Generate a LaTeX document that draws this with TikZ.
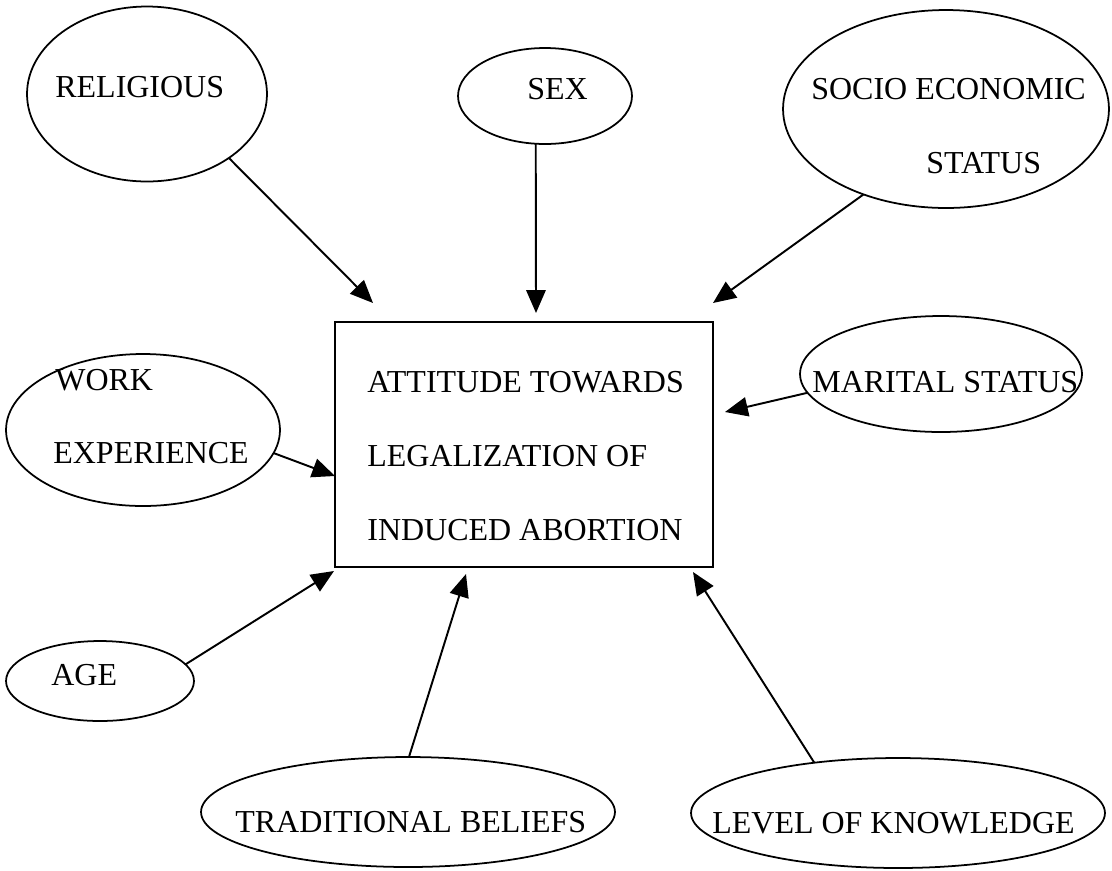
\documentclass[tikz,border=0pt]{standalone}
\usepackage{fontspec}
\setmainfont{Liberation Serif}
\usetikzlibrary{arrows.meta,shapes.geometric}

\tikzset{
  oval/.style={draw, ellipse, line width=1pt, inner sep=0pt, outer sep=0pt},
  box/.style={draw, rectangle, line width=1pt, inner sep=0pt, outer sep=0pt,
    minimum width=7.56cm, minimum height=4.9cm},
  lbl/.style={anchor=base west, inner sep=0pt, font=\fontsize{18.2}{21}\selectfont},
  arr/.style={-{Triangle[length=13pt,width=11pt]}, line width=1.1pt}
}

\begin{document}
\begin{tikzpicture}[x=0.02cm, y=-0.02cm]
          \useasboundingbox (0,0) rectangle (1112,870);

          \node[box] (box) at (524, 444.5) {};
          \node[lbl] (att) at (367, 392) {ATTITUDE TOWARDS};
          \node[lbl] (leg) at (367, 466) {LEGALIZATION OF};
          \node[lbl] (ind) at (367, 540) {INDUCED ABORTION};

          \node[oval, minimum width=4.8cm, minimum height=3.5cm] (rel) at (147, 94) {};
          \node[oval, minimum width=3.48cm, minimum height=1.92cm] (sex) at (545, 96) {};
          \node[oval, minimum width=6.52cm, minimum height=3.96cm] (soc) at (946, 109) {};
          \node[oval, minimum width=5.64cm, minimum height=2.32cm] (mar) at (941, 374) {};
          \node[oval, minimum width=5.48cm, minimum height=3.04cm] (wrk) at (143, 430) {};
          \node[oval, minimum width=3.76cm, minimum height=1.6cm] (age) at (100, 681) {};
          \node[oval, minimum width=8.28cm, minimum height=2.2cm] (trad) at (408, 812) {};
          \node[oval, minimum width=8.28cm, minimum height=2.2cm] (lev) at (898, 813) {};

          \node[lbl] (reltxt) at (55, 97) {RELIGIOUS};
          \node[lbl] (sextxt) at (527, 99) {SEX};
          \node[lbl] (soctxt) at (811, 99) {SOCIO ECONOMIC};
          \node[lbl] (soctxtb) at (926, 173) {STATUS};
          \node[lbl] (martxt) at (812, 392) {MARITAL STATUS};
          \node[lbl] (wrktxt) at (55, 390) {WORK};
          \node[lbl] (wrktxtb) at (53, 463) {EXPERIENCE};
          \node[lbl] (agetxt) at (51, 685) {AGE};
          \node[lbl] (tradtxt) at (235, 832) {TRADITIONAL BELIEFS};
          \node[lbl] (levtxt) at (712, 833) {LEVEL OF KNOWLEDGE};

          \coordinate (reltip) at (373, 303);
          \coordinate (sextip) at (536, 313);
          \coordinate (soctip) at (713, 303);
          \coordinate (martip) at (725, 412);
          \coordinate (wrktip) at (335, 476);
          \coordinate (agetip) at (334, 571);
          \coordinate (tradtip) at (466, 574);
          \coordinate (levtip) at (693, 572);

          \draw[arr] (rel.-38) -- (reltip);
          \draw[arr] (sex.-101) -- (sextip);
          \draw[arr] (soc.-134.7) -- (soctip);
          \draw[arr] (mar.-172.3) -- (martip);
          \draw[arr] (wrk.-10.8) -- (wrktip);
          \draw[arr] (age.11.9) -- (agetip);
          \draw[arr] (trad.89) -- (tradtip);
          \draw[arr] (lev.149.4) -- (levtip);
        \end{tikzpicture}
\end{document}
